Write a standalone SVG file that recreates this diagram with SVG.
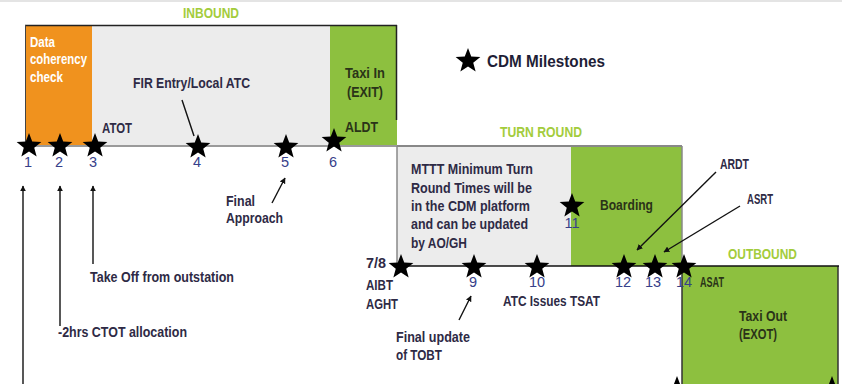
<svg xmlns="http://www.w3.org/2000/svg" width="842" height="384" viewBox="0 0 842 384">
<style>
text{font-family:"Liberation Sans",Arial,sans-serif;font-size:15px;font-weight:bold;fill:#2e2a45}
.num{fill:#36408a;text-anchor:middle;font-weight:normal;font-size:14.5px}
.olive{fill:#2a3318}
.wht{fill:#ffffff}
.ttl{fill:#a3cc3c;font-size:14px}
.big{font-size:17px;fill:#1e1e36}
.conn line{stroke:#111;stroke-width:1.4}
</style>
<defs>
<path id="star" d="M0,-13 L3.233,-4.45 L12.364,-4.017 L5.231,1.7 L7.641,10.517 L0,5.5 L-7.641,10.517 L-5.231,1.7 L-12.364,-4.017 L-3.233,-4.45 Z" fill="#000"/>
<marker id="ah" viewBox="0 0 10 10" refX="9" refY="5" markerWidth="6" markerHeight="6" orient="auto" markerUnits="userSpaceOnUse">
<path d="M0,0 L10,5 L0,10 Z" fill="#111"/>
</marker>
</defs>
<rect width="842" height="384" fill="#fff"/>
<line x1="0" y1="1" x2="842" y2="1" stroke="#e4e4e4" stroke-width="2"/>

<g id="inbound">
<rect x="25" y="25" width="67" height="121" fill="#f0921e"/>
<rect x="92" y="25" width="238" height="121" fill="#ececec"/>
<rect x="330" y="25" width="67" height="121" fill="#8dc03f"/>
<line x1="25" y1="25.5" x2="397" y2="25.5" stroke="#222" stroke-width="1.5"/>
<line x1="25.5" y1="25" x2="25.5" y2="146" stroke="#444" stroke-width="1"/>
<line x1="396.5" y1="25" x2="396.5" y2="120" stroke="#222" stroke-width="1.5"/>
<line x1="25" y1="146" x2="397" y2="146" stroke="#9a9a9a" stroke-width="2"/>
<text class="ttl" x="183" y="18" textLength="56" lengthAdjust="spacingAndGlyphs">INBOUND</text>
<text class="wht" x="30" y="47" textLength="25" lengthAdjust="spacingAndGlyphs">Data</text>
<text class="wht" x="30" y="64" textLength="57" lengthAdjust="spacingAndGlyphs">coherency</text>
<text class="wht" x="30" y="82" textLength="33" lengthAdjust="spacingAndGlyphs">check</text>
<text x="133" y="88" textLength="117" lengthAdjust="spacingAndGlyphs">FIR Entry/Local ATC</text>
<text x="102" y="133" textLength="30" lengthAdjust="spacingAndGlyphs" fill="#2a2f5a">ATOT</text>
<text class="olive" x="345" y="78" textLength="40" lengthAdjust="spacingAndGlyphs">Taxi In</text>
<text class="olive" x="347" y="97" textLength="36" lengthAdjust="spacingAndGlyphs">(EXIT)</text>
<text class="olive" x="345" y="132" textLength="33" lengthAdjust="spacingAndGlyphs">ALDT</text>
</g>

<g id="turnround">
<rect x="397" y="146" width="174" height="120" fill="#ececec"/>
<rect x="571" y="146" width="111" height="120" fill="#8dc03f"/>
<line x1="397" y1="146" x2="682" y2="146" stroke="#888" stroke-width="2"/>
<line x1="397" y1="146" x2="397" y2="266" stroke="#888" stroke-width="1.5"/>
<line x1="682" y1="146" x2="682" y2="266" stroke="#888" stroke-width="1.5"/>
<text class="ttl" x="500" y="137" textLength="82" lengthAdjust="spacingAndGlyphs">TURN ROUND</text>
<text x="411" y="174" textLength="122" lengthAdjust="spacingAndGlyphs">MTTT Minimum Turn</text>
<text x="411" y="193" textLength="121" lengthAdjust="spacingAndGlyphs">Round Times will be</text>
<text x="411" y="211" textLength="119" lengthAdjust="spacingAndGlyphs">in the CDM platform</text>
<text x="411" y="229" textLength="117" lengthAdjust="spacingAndGlyphs">and can be updated</text>
<text x="411" y="248" textLength="56" lengthAdjust="spacingAndGlyphs">by AO/GH</text>
<text class="olive" x="600" y="210" textLength="53" lengthAdjust="spacingAndGlyphs">Boarding</text>
</g>

<g id="outbound">
<rect x="682" y="266" width="156" height="120" fill="#8dc03f"/>
<line x1="682" y1="266" x2="682" y2="384" stroke="#333" stroke-width="1.5"/>
<line x1="838" y1="266" x2="838" y2="384" stroke="#333" stroke-width="1.5"/>
<line x1="397" y1="266" x2="839" y2="266" stroke="#111" stroke-width="1.6"/>
<text class="ttl" x="728" y="259" textLength="69" lengthAdjust="spacingAndGlyphs">OUTBOUND</text>
<text class="olive" x="700" y="287" textLength="24" lengthAdjust="spacingAndGlyphs">ASAT</text>
<text class="olive" x="739" y="321" textLength="48" lengthAdjust="spacingAndGlyphs">Taxi Out</text>
<text class="olive" x="739" y="339" textLength="38" lengthAdjust="spacingAndGlyphs">(EXOT)</text>
</g>

<g id="legend">
<use href="#star" x="468" y="61"/>
<text class="big" x="487" y="67" textLength="118" lengthAdjust="spacingAndGlyphs">CDM Milestones</text>
</g>

<g id="milestones">
<use href="#star" x="29" y="146"/>
<use href="#star" x="60" y="146"/>
<use href="#star" x="95" y="146"/>
<use href="#star" x="198" y="147"/>
<use href="#star" x="286" y="147"/>
<use href="#star" x="334" y="141"/>
<text class="num" x="28" y="167">1</text>
<text class="num" x="59" y="167">2</text>
<text class="num" x="93" y="167">3</text>
<text class="num" x="197" y="167">4</text>
<text class="num" x="285" y="167">5</text>
<text class="num" x="333" y="167">6</text>
<use href="#star" x="401" y="267"/>
<use href="#star" x="474" y="267"/>
<use href="#star" x="537" y="267"/>
<use href="#star" x="572" y="206"/>
<use href="#star" x="624" y="267"/>
<use href="#star" x="655" y="267"/>
<use href="#star" x="684" y="267"/>
<use href="#star" x="677" y="389"/>
<use href="#star" x="832" y="389"/>
<text x="366" y="268" textLength="20" lengthAdjust="spacingAndGlyphs">7/8</text>
<text x="366" y="290" textLength="27" lengthAdjust="spacingAndGlyphs">AIBT</text>
<text x="366" y="309" textLength="32" lengthAdjust="spacingAndGlyphs">AGHT</text>
<text class="num" x="473" y="287">9</text>
<text class="num" x="537" y="287">10</text>
<text class="num" x="572" y="228">11</text>
<text class="num" x="623" y="287">12</text>
<text class="num" x="653" y="287">13</text>
<text class="num" x="684" y="287">14</text>
</g>

<g id="labels">
<text x="226" y="206" textLength="29" lengthAdjust="spacingAndGlyphs">Final</text>
<text x="226" y="223" textLength="57" lengthAdjust="spacingAndGlyphs">Approach</text>
<text x="90" y="282" textLength="144" lengthAdjust="spacingAndGlyphs">Take Off from outstation</text>
<text x="58" y="337" textLength="129" lengthAdjust="spacingAndGlyphs">-2hrs CTOT allocation</text>
<text x="503" y="306" textLength="97" lengthAdjust="spacingAndGlyphs">ATC Issues TSAT</text>
<text x="396" y="342" textLength="74" lengthAdjust="spacingAndGlyphs">Final update</text>
<text x="396" y="360" textLength="46" lengthAdjust="spacingAndGlyphs">of TOBT</text>
<text x="720" y="169" textLength="29" lengthAdjust="spacingAndGlyphs">ARDT</text>
<text x="747" y="204" textLength="26" lengthAdjust="spacingAndGlyphs">ASRT</text>
</g>

<g id="connectors" class="conn">
<line x1="182" y1="100" x2="194" y2="136"/>
<line x1="272" y1="203" x2="285" y2="178" marker-end="url(#ah)"/>
<line x1="23" y1="384" x2="23" y2="186" marker-end="url(#ah)"/>
<line x1="60" y1="326" x2="60" y2="186" marker-end="url(#ah)"/>
<line x1="93" y1="264" x2="93" y2="186" marker-end="url(#ah)"/>
<line x1="459" y1="320" x2="471" y2="296" marker-end="url(#ah)"/>
<line x1="716" y1="172" x2="637" y2="250" marker-end="url(#ah)"/>
<line x1="740" y1="206" x2="664" y2="252" marker-end="url(#ah)"/>
</g>
</svg>
